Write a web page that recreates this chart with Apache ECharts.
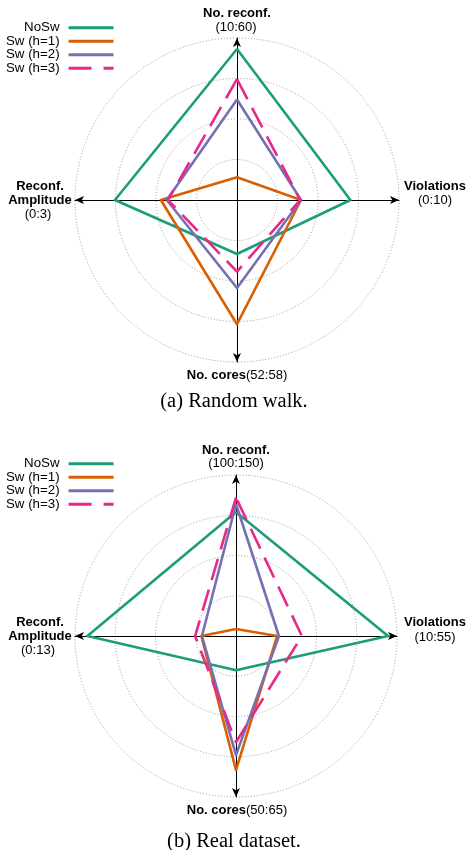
<!DOCTYPE html>
<html>
<head>
<meta charset="utf-8">
<script src="https://cdn.jsdelivr.net/npm/echarts@6/dist/echarts.min.js"></script>
<style>html,body{margin:0;padding:0;background:#fff}#c{width:468px;height:850px}</style>
</head>
<body>
<div id="c"></div>
<script>
// Series names
const seriesNames = ['NoSw', 'Sw (h=1)', 'Sw (h=2)', 'Sw (h=3)'];
// Axis order (counterclockwise from top): No. reconf., Reconf. Amplitude, No. cores, Violations
const axesA = ['No. reconf.', 'Reconf. Amplitude', 'No. cores', 'Violations'];
const rangesA = [[10, 60], [0, 3], [52, 58], [0, 10]];
const rangesB = [[100, 150], [0, 13], [50, 65], [10, 55]];
// (a) Random walk
const noSwA = [56.6, 2.26, 54.0, 7.0];
const sw1A  = [17.0, 1.41, 56.6, 3.95];
const sw2A  = [41.0, 1.30, 55.26, 3.95];
const sw3A  = [47.3, 1.28, 54.65, 3.9];
// (b) Real dataset
const noSwB = [138.5, 12.0, 53.2, 52.5];
const sw1B  = [102.2, 2.8, 62.5, 21.5];
const sw2B  = [141.0, 2.75, 61.1, 22.0];
const sw3B  = [143.0, 3.3, 59.9, 28.4];

const colors = ['#1b9e77', '#d95f02', '#7570b3', '#e7298a'];
const dashIcon = 'path://M0,0h23v3h-23z M35,0h10v3h-10z';

function indicators(ranges) {
  return axesA.map((n, i) => ({ name: n, min: ranges[i][0], max: ranges[i][1] }));
}
function radarCfg(center, radius, ranges) {
  return {
    center: center, radius: radius, shape: 'circle', splitNumber: 4, startAngle: 90,
    indicator: indicators(ranges),
    axisName: { show: false },
    axisLine: { show: true, symbol: ['none', 'arrow'], symbolSize: [6, 9], lineStyle: { color: '#000', width: 1 } },
    axisTick: { show: false },
    axisLabel: { show: false },
    splitLine: { show: true, lineStyle: { color: '#9a9a9a', type: [1, 2], width: 1 } },
    splitArea: { show: false }
  };
}
function seriesData(sets) {
  return sets.map((v, i) => ({
    name: seriesNames[i], value: v,
    itemStyle: { color: colors[i] },
    lineStyle: { color: colors[i], width: 2.6, type: i === 3 ? [22, 10] : 'solid' }
  }));
}
function legendCfg(top) {
  return {
    orient: 'vertical', align: 'right', left: 6, top: top, padding: 0, itemGap: 0,
    itemWidth: 45, itemHeight: 3, selectedMode: false,
    textStyle: { fontFamily: 'Liberation Sans', fontSize: 13.3, color: '#000', lineHeight: 13.5, padding: [0, 4, 0, 0] },
    itemStyle: { borderWidth: 0 },
    data: seriesNames.map((n, i) => ({ name: n, icon: i === 3 ? dashIcon : 'rect' }))
  };
}
const sans = 'Liberation Sans';
function txt(x, y, text, bold, align) {
  return { type: 'text', style: { x: x, y: y, text: text, fill: '#000', font: (bold ? 'bold ' : '') + '13px "Liberation Sans"', align: align || 'center', verticalAlign: 'middle' } };
}
function richTxt(x, y, a, b) {
  return { type: 'text', style: { x: x, y: y, text: '{b|' + a + '}{n|' + b + '}', align: 'center', verticalAlign: 'middle',
    rich: { b: { fontFamily: sans, fontWeight: 'bold', fontSize: 13, fill: '#000' }, n: { fontFamily: sans, fontSize: 13, fill: '#000' } } } };
}
function caption(x, y, text) {
  return { type: 'text', style: { x: x, y: y, text: text, fill: '#000', font: '20.5px "Liberation Serif"', align: 'center', verticalAlign: 'middle' } };
}
const fmt = r => '(' + r[0] + ':' + r[1] + ')';

const chart = echarts.init(document.getElementById('c'), null, { renderer: 'canvas' });
chart.setOption({
  animation: false,
  backgroundColor: '#fff',
  radar: [radarCfg([237, 200], 162, rangesA), radarCfg([236, 636], 161, rangesB)],
  legend: [legendCfg(21), legendCfg(457)],
  series: [
    { type: 'radar', radarIndex: 0, symbol: 'none', data: seriesData([noSwA, sw1A, sw2A, sw3A]) },
    { type: 'radar', radarIndex: 1, symbol: 'none', data: seriesData([noSwB, sw1B, sw2B, sw3B]) }
  ],
  graphic: [
    txt(237, 13, 'No. reconf.', true), txt(236, 27, fmt(rangesA[0]), false),
    txt(40, 186, 'Reconf.', true), txt(40, 200, 'Amplitude', true), txt(38, 214, fmt(rangesA[1]), false),
    txt(435, 186, 'Violations', true), txt(435, 200, fmt(rangesA[3]), false),
    richTxt(237, 375, 'No. cores', fmt(rangesA[2])),
    caption(234, 402, '(a) Random walk.'),
    txt(236, 450, 'No. reconf.', true), txt(236, 463, fmt(rangesB[0]), false),
    txt(40, 622, 'Reconf.', true), txt(40, 636, 'Amplitude', true), txt(38, 650, fmt(rangesB[1]), false),
    txt(435, 622, 'Violations', true), txt(435, 637, fmt(rangesB[3]), false),
    richTxt(237, 810, 'No. cores', fmt(rangesB[2])),
    caption(234, 842, '(b) Real dataset.')
  ]
});
</script>
</body>
</html>
